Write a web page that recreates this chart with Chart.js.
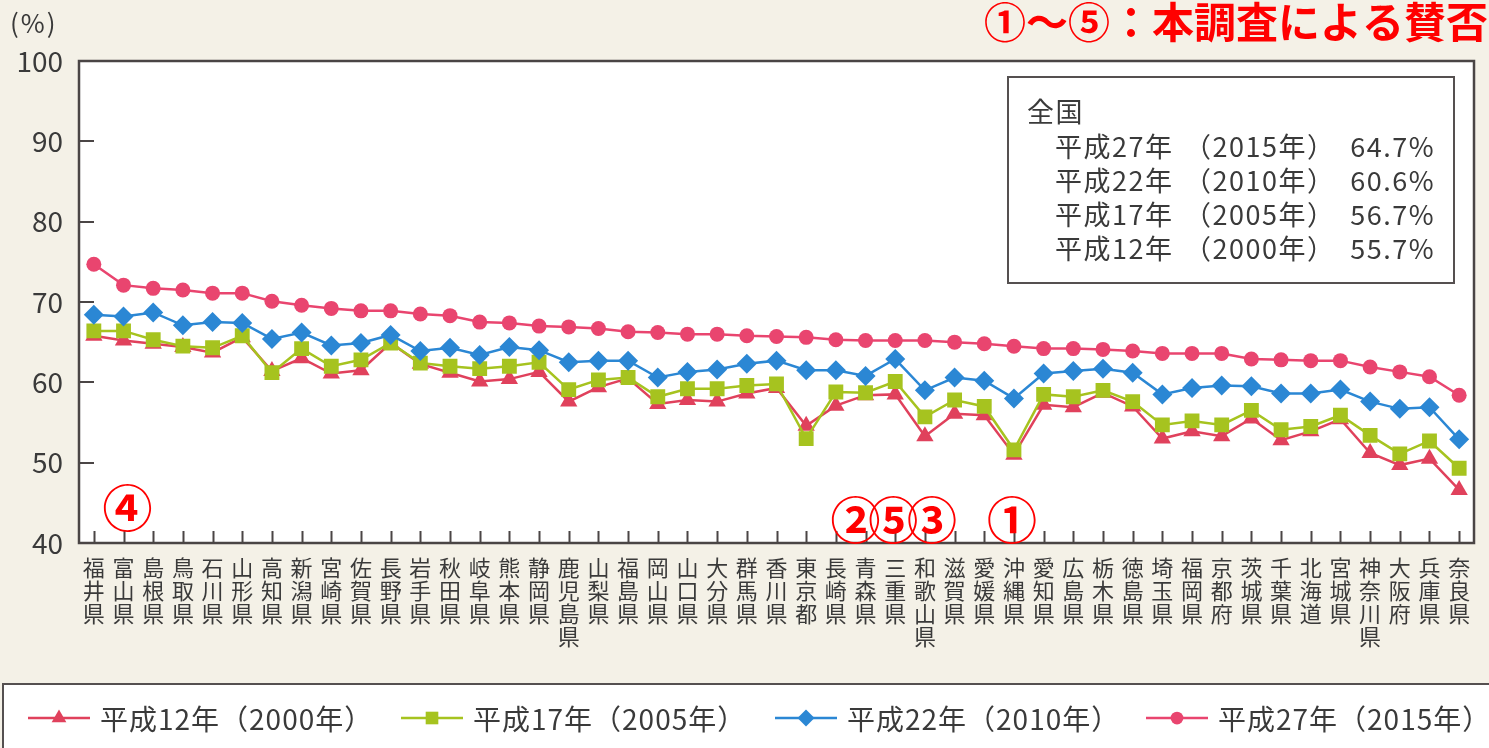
<!DOCTYPE html>
<html>
<head>
<meta charset="utf-8">
<script src="https://cdn.jsdelivr.net/npm/chart.js@4"></script>
<style>
  html, body { margin: 0; padding: 0; background: #f4f1e7; }
  #wrap { width: 1489px; height: 748px; }
</style>
</head>
<body>
<div id="wrap"><canvas id="chart" width="1489" height="748"></canvas></div>
<script>
// 都道府県（2015年の値が高い順）
const prefectures = ['福井県','富山県','島根県','鳥取県','石川県','山形県','高知県','新潟県','宮崎県','佐賀県',
  '長野県','岩手県','秋田県','岐阜県','熊本県','静岡県','鹿児島県','山梨県','福島県','岡山県',
  '山口県','大分県','群馬県','香川県','東京都','長崎県','青森県','三重県','和歌山県','滋賀県',
  '愛媛県','沖縄県','愛知県','広島県','栃木県','徳島県','埼玉県','福岡県','京都府','茨城県',
  '千葉県','北海道','宮城県','神奈川県','大阪府','兵庫県','奈良県'];

const h12 = [65.8,65.2,64.8,64.4,63.7,65.6,61.4,63.0,61.1,61.5,
  64.9,62.3,61.2,60.1,60.4,61.3,57.6,59.4,60.5,57.3,
  57.8,57.6,58.6,59.3,54.6,57.1,58.4,58.5,53.3,56.1,
  55.9,51.0,57.2,56.9,58.7,57.0,53.0,53.9,53.3,55.5,
  52.8,53.9,55.4,51.2,49.7,50.5,46.6];
const h17 = [66.4,66.4,65.3,64.5,64.3,65.8,61.2,64.2,62.0,62.8,
  64.9,62.4,62.0,61.7,62.0,62.5,59.1,60.3,60.6,58.2,
  59.2,59.2,59.6,59.8,53.0,58.8,58.7,60.1,55.7,57.8,
  57.0,51.6,58.5,58.2,59.0,57.6,54.7,55.2,54.7,56.5,
  54.1,54.5,55.9,53.4,51.1,52.7,49.3];
const h22 = [68.4,68.2,68.7,67.1,67.5,67.4,65.4,66.2,64.6,64.9,
  65.9,63.9,64.3,63.4,64.4,64.0,62.5,62.7,62.7,60.6,
  61.3,61.6,62.3,62.7,61.5,61.5,60.8,62.9,59.0,60.6,
  60.2,58.0,61.1,61.4,61.7,61.2,58.5,59.3,59.6,59.5,
  58.6,58.6,59.1,57.6,56.7,56.9,52.9];
const h27 = [74.7,72.1,71.7,71.5,71.1,71.1,70.1,69.6,69.2,68.9,
  68.9,68.5,68.3,67.5,67.4,67.0,66.9,66.7,66.3,66.2,
  66.0,66.0,65.8,65.7,65.6,65.3,65.2,65.2,65.2,65.0,
  64.8,64.5,64.2,64.2,64.1,63.9,63.6,63.6,63.6,62.9,
  62.8,62.7,62.7,61.9,61.3,60.7,58.4];

const yTicks = [40, 50, 60, 70, 80, 90, 100];

// 全国平均
const nationEra = ['平成27年', '平成22年', '平成17年', '平成12年'];
const nationYear = ['（2015年）', '（2010年）', '（2005年）', '（2000年）'];
const nationRate = ['64.7%', '60.6%', '56.7%', '55.7%'];

// 本調査の丸数字
const marks = [
  { pref: '富山県', text: '④', v: 44.6 },
  { pref: '青森県', text: '②', v: 43.1 },
  { pref: '三重県', text: '⑤', v: 43.1 },
  { pref: '和歌山県', text: '③', v: 43.1 },
  { pref: '沖縄県', text: '①', v: 43.1 }
];

const FONT = '"Noto Sans CJK JP", "Noto Sans", sans-serif';
const TXT = '#3a3a3a';

const series = [
  { label: '平成12年（2000年）', data: h12, color: '#e0415c', style: 'triangle', r: 10, order: 4 },
  { label: '平成17年（2005年）', data: h17, color: '#a6c31f', style: 'rect', r: 10.5, order: 3 },
  { label: '平成22年（2010年）', data: h22, color: '#2b87d4', style: 'rectRot', r: 10, order: 2 },
  { label: '平成27年（2015年）', data: h27, color: '#e9456f', style: 'circle', r: 7.5, order: 1 }
];

// 背景・枠・内向き目盛
const frame = {
  id: 'frame',
  beforeDraw(chart) {
    const { ctx, chartArea: a, width, height } = chart;
    ctx.save();
    ctx.fillStyle = '#f4f1e7';
    ctx.fillRect(0, 0, width, height);
    ctx.fillStyle = '#ffffff';
    ctx.fillRect(a.left, a.top, a.right - a.left, a.bottom - a.top);
    ctx.restore();
  },
  beforeDatasetsDraw(chart) {
    const { ctx, chartArea: a, scales } = chart;
    ctx.save();
    ctx.strokeStyle = '#4a4545';
    ctx.lineWidth = 2;
    ctx.beginPath();
    yTicks.forEach(v => {
      const y = Math.round(scales.y.getPixelForValue(v));
      ctx.moveTo(a.left, y);
      ctx.lineTo(a.left + 15, y);
    });
    prefectures.forEach((p, i) => {
      const x = Math.round(scales.x.getPixelForValue(i)) + 0.5;
      ctx.moveTo(x, a.bottom);
      ctx.lineTo(x, a.bottom - 12);
    });
    ctx.stroke();
    ctx.restore();
  },
  afterDatasetsDraw(chart) {
    const { ctx, chartArea: a, scales } = chart;
    ctx.save();
    ctx.strokeStyle = '#4a4545';
    ctx.lineWidth = 2.5;
    ctx.strokeRect(a.left, a.top, a.right - a.left, a.bottom - a.top);

    // 全国の枠
    ctx.fillStyle = '#ffffff';
    ctx.fillRect(1008, 77, 446, 206);
    ctx.lineWidth = 2;
    ctx.strokeStyle = '#555050';
    ctx.strokeRect(1008, 77, 446, 206);
    ctx.fillStyle = TXT;
    ctx.font = '27px ' + FONT;
    ctx.letterSpacing = '1.5px';
    ctx.textBaseline = 'middle';
    ctx.textAlign = 'left';
    ctx.fillText('全国', 1027, 112);
    nationEra.forEach((t, i) => {
      const y = 147 + i * 34;
      ctx.textAlign = 'left';
      ctx.fillText(t, 1055, y);
      ctx.fillText(nationYear[i], 1184, y);
      ctx.textAlign = 'right';
      ctx.fillText(nationRate[i], 1435, y);
    });
    ctx.letterSpacing = '0px';

    // 丸数字
    const nudge = { '④': 4, '②': -10, '⑤': -2, '③': 7, '①': -2 };
    ctx.fillStyle = '#ff0000';
    ctx.font = 'bold 50px ' + FONT;
    ctx.textAlign = 'center';
    marks.forEach(m => {
      const x = scales.x.getPixelForValue(prefectures.indexOf(m.pref)) + nudge[m.text];
      ctx.fillText(m.text, x, scales.y.getPixelForValue(m.v) + 2);
    });
    ctx.restore();
  },
  afterDraw(chart) {
    const { ctx } = chart;
    ctx.save();
    // 見出し
    ctx.fillStyle = '#ff0000';
    ctx.font = 'bold 42px ' + FONT;
    ctx.textBaseline = 'middle';
    ctx.textAlign = 'left';
    ctx.fillText('①〜⑤：本調査による賛否の', 984, 22);
    ctx.fillStyle = TXT;
    ctx.font = '26px ' + FONT;
    ctx.letterSpacing = '2px';
    ctx.fillText('(%)', 10, 23);
    ctx.letterSpacing = '0px';

    // 凡例
    ctx.fillStyle = '#ffffff';
    ctx.fillRect(3, 684, 1500, 80);
    ctx.strokeStyle = '#555050';
    ctx.lineWidth = 2;
    ctx.strokeRect(3, 684, 1500, 80);
    const xs = [28, 401, 775, 1146];
    series.forEach((s, i) => {
      const y = 718;
      ctx.strokeStyle = s.color;
      ctx.lineWidth = 2.5;
      ctx.beginPath();
      ctx.moveTo(xs[i], y);
      ctx.lineTo(xs[i] + 62, y);
      ctx.stroke();
      ctx.fillStyle = s.color;
      Chart.helpers.drawPoint(ctx, { pointStyle: s.style, radius: s.r * 0.85, borderWidth: 0 }, xs[i] + 31, y);
      ctx.fillStyle = TXT;
      ctx.font = '28px ' + FONT;
      ctx.letterSpacing = '1px';
      ctx.textAlign = 'left';
      ctx.fillText(s.label, xs[i] + 72, y + 1);
      ctx.letterSpacing = '0px';
    });
    ctx.restore();
  }
};

new Chart(document.getElementById('chart'), {
  type: 'line',
  data: {
    labels: prefectures.map(p => p.split('')),
    datasets: series.map(s => ({
      label: s.label,
      data: s.data,
      order: s.order,
      borderColor: s.color,
      backgroundColor: s.color,
      borderWidth: 2.5,
      pointStyle: s.style,
      pointRadius: s.r,
      pointBorderWidth: 0,
      tension: 0
    }))
  },
  options: {
    responsive: false,
    animation: false,
    layout: { padding: { top: 61, right: 15, left: 0, bottom: 0 } },
    plugins: { legend: { display: false }, tooltip: { enabled: false } },
    scales: {
      x: {
        offset: true,
        grid: { display: false, drawTicks: false },
        border: { display: false },
        ticks: {
          autoSkip: false, maxRotation: 0, minRotation: 0, padding: 13,
          color: TXT, font: { family: FONT, size: 22, lineHeight: 1.05 }
        },
        afterFit(scale) { scale.height = 205; }
      },
      y: {
        min: 40, max: 100,
        grid: { display: false, drawTicks: false },
        border: { display: false },
        ticks: {
          stepSize: 10, padding: 16,
          color: TXT, font: { family: FONT, size: 28 }
        },
        afterFit(scale) { scale.width = 79; }
      }
    }
  },
  plugins: [frame]
});
</script>
</body>
</html>
